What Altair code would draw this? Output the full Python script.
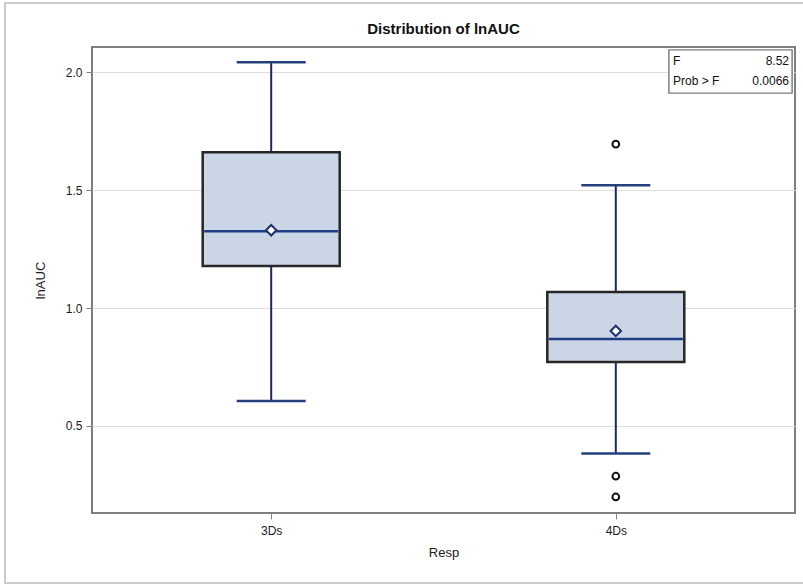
import altair as alt
import pandas as pd

# Box-plot summary of lnAUC by response group
groups = ["3Ds", "4Ds"]
whisker_low = [0.606, 0.383]
q1 = [1.178, 0.771]
median = [1.326, 0.869]
q3 = [1.661, 1.068]
whisker_high = [2.042, 1.521]
mean = [1.330, 0.903]

# Outlying observations
outlier_group = ["4Ds", "4Ds", "4Ds"]
outlier_value = [1.695, 0.287, 0.199]

# ANOVA inset
inset_labels = ["F", "Prob > F"]
inset_values = ["8.52", "0.0066"]

TITLE = "Distribution of lnAUC"

W, H = 703, 466
FONT = "Liberation Sans"

stats = pd.DataFrame({
    "Resp": groups, "lo": whisker_low, "q1": q1, "med": median,
    "q3": q3, "hi": whisker_high, "mean": mean,
})
outl = pd.DataFrame({"Resp": outlier_group, "v": outlier_value})
inset = pd.DataFrame({"label": inset_labels, "value": inset_values, "row": [0, 1]})
title_df = pd.DataFrame({"t": [TITLE]})

x_enc = alt.X(
    "Resp:N",
    scale=alt.Scale(type="point", padding=0.52, domain=groups),
    axis=alt.Axis(title="Resp", labelAngle=0, grid=False, domain=False,
                  tickColor="#808080", tickSize=6, labelPadding=6,
                  titlePadding=10),
)
y_scale = alt.Scale(domain=[0.131, 2.107], nice=False, zero=False)
y_axis = alt.Axis(title="lnAUC", values=[0.5, 1.0, 1.5, 2.0], format=".1f",
                  grid=True, gridColor="#dedede", gridWidth=1.2, domain=False,
                  tickColor="#808080", tickSize=6, labelPadding=4,
                  titlePadding=18)

base = alt.Chart(stats)
NAVY = "#1b2a5e"
BLUE = "#26407e"

whisk_lo = base.mark_rule(color=NAVY, strokeWidth=2).encode(
    x=x_enc, y=alt.Y("lo:Q", scale=y_scale, axis=y_axis), y2="q1:Q")
whisk_hi = base.mark_rule(color=NAVY, strokeWidth=2).encode(
    x=x_enc, y=alt.Y("q3:Q", scale=y_scale), y2="hi:Q")

cap_lo = base.mark_tick(size=69, thickness=2.5, color=BLUE, opacity=1).encode(
    x=x_enc, y=alt.Y("lo:Q", scale=y_scale))
cap_hi = base.mark_tick(size=69, thickness=2.5, color=BLUE, opacity=1).encode(
    x=x_enc, y=alt.Y("hi:Q", scale=y_scale))

box = base.mark_bar(size=137, fill="#cad6e6", stroke="#262626",
                    strokeWidth=2.5).encode(
    x=x_enc, y=alt.Y("q1:Q", scale=y_scale), y2="q3:Q")

med_line = base.mark_tick(size=134, thickness=2.5, color="#1f3c85",
                          opacity=1).encode(
    x=x_enc, y=alt.Y("med:Q", scale=y_scale))

mean_pt = base.mark_point(shape="diamond", size=110, filled=True,
                          fill="#ffffff", stroke="#1c2f6e",
                          strokeWidth=2, opacity=1).encode(
    x=x_enc, y=alt.Y("mean:Q", scale=y_scale))

out_pts = alt.Chart(outl).mark_point(shape="circle", size=45, filled=True,
                                     fill="#ffffff", stroke="#111111",
                                     strokeWidth=2, opacity=1).encode(
    x=x_enc, y=alt.Y("v:Q", scale=y_scale))

# ANOVA statistics box in the upper-right corner
inset_box = alt.Chart(inset).mark_rect(fill="#ffffff", stroke="#7a7a7a",
                                       strokeWidth=1.2).encode(
    x=alt.value(577), x2=alt.value(700), y=alt.value(3), y2=alt.value(46))

inset_text = []
for row, ypix in [(0, 14), (1, 34)]:
    sub = alt.Chart(inset).transform_filter(alt.datum.row == row)
    inset_text.append(sub.mark_text(align="left", baseline="middle", font=FONT,
                                    fontSize=12, color="#111111").encode(
        x=alt.value(581), y=alt.value(ypix), text="label:N"))
    inset_text.append(sub.mark_text(align="right", baseline="middle", font=FONT,
                                    fontSize=12, color="#111111").encode(
        x=alt.value(697), y=alt.value(ypix), text="value:N"))

# Outer frame around the whole graphic
frame = alt.Chart(inset).mark_rect(fill=None, stroke="#c8c8c8",
                                   strokeWidth=1.5, clip=False).encode(
    x=alt.value(-87), x2=alt.value(714), y=alt.value(-44), y2=alt.value(536))

# Chart heading, centred over the plot area
heading = alt.Chart(title_df).mark_text(
    font=FONT, fontSize=15, fontWeight="bold", color="#111111",
    align="center", baseline="middle", clip=False,
).encode(x=alt.value(W / 2), y=alt.value(-18), text="t:N")

chart = alt.layer(
    frame, whisk_lo, whisk_hi, cap_lo, cap_hi, box, med_line,
    mean_pt, out_pts, inset_box, *inset_text, heading,
).properties(
    width=W, height=H,
    autosize=alt.AutoSizeParams(type="none"),
    padding={"left": 92, "top": 47, "right": 8, "bottom": 71},
    background="#ffffff",
).configure_view(
    stroke="#7f7f7f", strokeWidth=2,
).configure_axis(
    labelFont=FONT, labelFontSize=12, labelColor="#1a1a1a",
    titleFont=FONT, titleFontSize=13, titleColor="#1a1a1a",
    titleFontWeight="normal",
)

chart.save("out.html", embed_options={"renderer": "svg", "actions": False})
